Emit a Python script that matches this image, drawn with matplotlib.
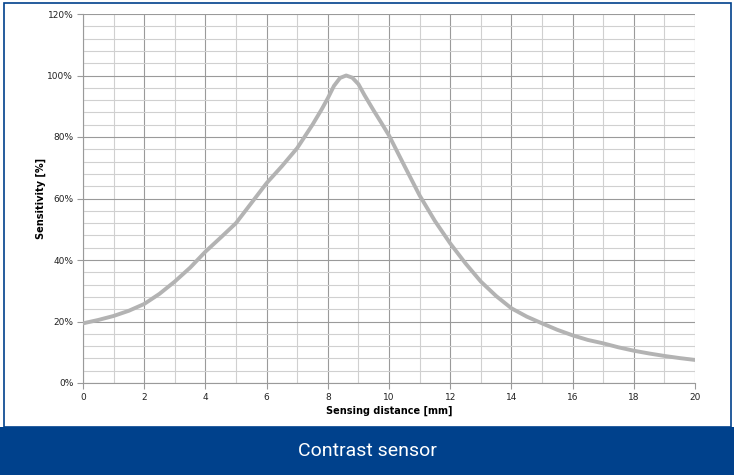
import matplotlib.pyplot as plt
from matplotlib.patches import Rectangle
from matplotlib.ticker import MultipleLocator, FuncFormatter

# sensing distance [mm] and sensitivity [%]
distance = [0, 0.5, 1, 1.5, 2, 2.5, 3, 3.5, 4, 4.5, 5, 5.5, 6, 6.5, 7, 7.5,
            7.8, 8, 8.2, 8.4, 8.6, 8.8, 9.0, 9.2, 9.5, 9.75, 10, 10.5, 11,
            11.5, 12, 12.5, 13, 13.5, 14, 14.5, 15, 15.5, 16, 16.5, 17, 17.5,
            18, 18.5, 19, 19.5, 20]
sensitivity = [19.4, 20.5, 21.8, 23.5, 25.7, 29.0, 33.0, 37.5, 42.7, 47.3,
               52.0, 58.5, 65.0, 70.5, 76.4, 84.0, 89.0, 92.6, 96.6, 99.2,
               100.0, 99.3, 97.2, 93.6, 88.6, 84.6, 80.5, 70.7, 61.0, 52.7,
               45.4, 38.9, 33.0, 28.3, 24.3, 21.6, 19.4, 17.3, 15.5, 14.0,
               12.9, 11.6, 10.5, 9.6, 8.8, 8.1, 7.5]

title = "Contrast sensor"
xlabel = "Sensing distance [mm]"
ylabel = "Sensitivity [%]"

blue = "#00418c"

fig = plt.figure(figsize=(7.34, 4.75), dpi=100)
W, H = 734, 475

# frame and banner
fig.patches.append(Rectangle((4 / W, 48 / H), 727 / W, (H - 51) / H,
                             transform=fig.transFigure, fill=False,
                             edgecolor=blue, linewidth=1.2))
fig.patches.append(Rectangle((0, 0), 1, 48 / H, transform=fig.transFigure,
                             facecolor=blue, edgecolor="none"))
fig.text(0.5, 24 / H, title, color="white", ha="center", va="center",
         fontsize=14, family="Roboto")

ax = fig.add_axes([83 / W, 92 / H, 612 / W, 369 / H])
ax.plot(distance, sensitivity, color="#b3b3b3", linewidth=2.8,
        solid_capstyle="round", solid_joinstyle="round", zorder=3)

ax.set_xlim(0, 20)
ax.set_ylim(0, 120)
ax.xaxis.set_major_locator(MultipleLocator(2))
ax.xaxis.set_minor_locator(MultipleLocator(1))
ax.yaxis.set_major_locator(MultipleLocator(20))
ax.yaxis.set_minor_locator(MultipleLocator(4))
ax.yaxis.set_major_formatter(FuncFormatter(lambda v, p: f"{v:.0f}%"))

ax.grid(which="major", color="#9a9a9a", linewidth=0.8)
ax.grid(which="minor", color="#d0d0d0", linewidth=0.8)
ax.set_axisbelow(True)

for s in ["top", "right"]:
    ax.spines[s].set_visible(False)
for s in ["left", "bottom"]:
    ax.spines[s].set_color("#9a9a9a")
    ax.spines[s].set_linewidth(0.8)

ax.tick_params(which="major", length=4, width=0.8, color="#9a9a9a",
               labelsize=6.5, labelcolor="#222222", pad=3)
ax.tick_params(which="minor", length=0)

ax.set_xlabel(xlabel, fontsize=7, fontweight="bold", labelpad=3)
ax.set_ylabel(ylabel, fontsize=7, fontweight="bold", labelpad=1)

fig.savefig("out.png", dpi=100, facecolor="white")
